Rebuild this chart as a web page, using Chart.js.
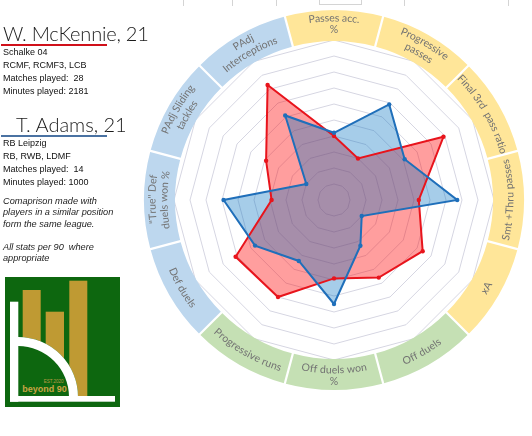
<!DOCTYPE html>
<html><head><meta charset="utf-8">
<script src="https://cdn.jsdelivr.net/npm/chart.js@4"></script>
<style>
html,body{margin:0;padding:0;background:#fff;width:532px;height:436px;overflow:hidden;}
#wrap{position:relative;width:532px;height:436px;}
canvas#c{position:absolute;left:0;top:0;}
.t{position:absolute;white-space:nowrap;font-family:"Liberation Sans",Arial,sans-serif;color:#111;}
.name{font-family:Lato,"Open Sans",sans-serif;font-weight:300;font-size:20px;color:#1a1a1a;line-height:24px;}
.small{font-size:9px;line-height:13.3px;}
.it{font-style:italic;font-size:9.2px;line-height:11.4px;color:#222;}
.ul{position:absolute;height:2px;}
.gl{position:absolute;background:#d4d4d4;}
</style></head>
<body><div id="wrap">
<canvas id="c" width="532" height="436"></canvas>

<div class="gl" style="left:183px;top:0;width:1px;height:6px"></div>
<div class="gl" style="left:232px;top:0;width:1px;height:6px"></div>
<div class="gl" style="left:276px;top:0;width:1px;height:6px"></div>
<div class="gl" style="left:319px;top:0;width:1px;height:5px"></div>
<div class="gl" style="left:319px;top:4px;width:43px;height:1px"></div>
<div class="gl" style="left:361px;top:0;width:1px;height:5px"></div>
<div class="gl" style="left:404px;top:0;width:1px;height:6px"></div>
<div class="gl" style="left:508px;top:0;width:1px;height:6px"></div>

<div class="t name" style="left:3px;top:21px;letter-spacing:-0.2px">W. McKennie, 21</div>
<div class="ul" style="left:1px;top:43.5px;width:106px;background:#d0101a"></div>
<div class="t small" style="left:3px;top:45.5px">Schalke 04<br>RCMF, RCMF3, LCB<br>Matches played:&nbsp; 28<br>Minutes played: 2181</div>

<div class="t name" style="left:16px;top:112px">T. Adams, 21</div>
<div class="ul" style="left:1px;top:134.5px;width:106px;background:#4a72a2"></div>
<div class="t small" style="left:3px;top:136.5px">RB Leipzig<br>RB, RWB, LDMF<br>Matches played:&nbsp; 14<br>Minutes played: 1000</div>

<div class="t it" style="left:3px;top:196px">Comaprison made with<br>players in a similar position<br>form the same league.<br><br>All stats per 90&nbsp; where<br>appropriate</div>

<svg style="position:absolute;left:5px;top:277px" width="116" height="130" viewBox="0 0 116 130">
  <rect x="0" y="0" width="115" height="130" fill="#0d670f"/>
  <rect x="17.7" y="13" width="18" height="107" fill="#bf9a33"/>
  <rect x="40.7" y="34.7" width="18.3" height="85" fill="#bf9a33"/>
  <rect x="64.3" y="3.7" width="18" height="116" fill="#bf9a33"/>
  <path d="M13 120 L13 60 A60 60 0 0 1 73 120 Z" fill="#0d670f"/>
  <path d="M13 60 A60 60 0 0 1 73 120 L64 120 A51 51 0 0 0 13 69 Z" fill="#ffffff"/>
  <rect x="5" y="24.7" width="8.3" height="100" fill="#ffffff"/>
  <rect x="5" y="119" width="105" height="5.7" fill="#ffffff"/>
  <text x="48.7" y="105.5" font-family="Liberation Sans,Arial,sans-serif" font-size="4.6" fill="#b99a45" text-anchor="middle">EST.2020</text>
  <text x="39.5" y="115.3" font-family="Liberation Sans,Arial,sans-serif" font-size="9" font-weight="bold" fill="#c9a445" text-anchor="middle">beyond 90</text>
</svg>
</div>
<script>
const categories = ["Passes acc. %", "Progressive passes", "Final 3rd pass ratio", "Smt +Thru passes", "xA", "Off duels", "Off duels won %", "Progressive runs", "Def duels", "\"True\" Def duels won %", "PAdj Sliding tackles", "PAdj Interceptions"];
const ringLabelLines = [["Passes acc.", "%"], ["Progressive", "passes"], ["Final 3rd  pass ratio"], ["Smt +Thru passes"], ["xA"], ["Off duels"], ["Off duels won", "%"], ["Progressive runs"], ["Def duels"], ["\"True\" Def", "duels won %"], ["PAdj Sliding", "tackles"], ["PAdj", "Interceptions"]];
const groups = ["pass", "pass", "pass", "pass", "pass", "off", "off", "off", "def", "def", "def", "def"];
const groupColors = {pass: "#FFE699", off: "#C5E0B4", def: "#BDD7EE"};
const mckennie = [40, 30, 79, 53, 64, 56, 49, 70, 71, 39, 49, 83];
const adams = [42, 69, 51, 77, 20, 33, 65, 44, 57, 69, 20, 61];
const tickMin = 0, tickMax = 100, tickStep = 10;

function arcText(ctx, text, cx, cy, r, theta, outward) {
  const w = ctx.measureText(text).width;
  const span = w / r;
  let acc = 0;
  for (const ch of text) {
    const cw = ctx.measureText(ch).width;
    const a = outward ? theta - span / 2 + (acc + cw / 2) / r : theta + span / 2 - (acc + cw / 2) / r;
    const x = cx + r * Math.sin(a), y = cy - r * Math.cos(a);
    ctx.save();
    ctx.translate(x, y);
    ctx.rotate(outward ? a : a + Math.PI);
    ctx.fillText(ch, 0, 0);
    ctx.restore();
    acc += cw;
  }
}

const ringPlugin = {
  id: 'ring',
  afterDraw(chart) {
    const s = chart.scales.r;
    const cx = s.xCenter, cy = s.yCenter, R = s.drawingArea;
    const ctx = chart.ctx;
    const rIn = R - 1, rOut = R + 30;
    const n = categories.length;
    const step = 2 * Math.PI / n;
    ctx.save();
    for (let i = 0; i < n; i++) {
      const t0 = i * step - step / 2 - Math.PI / 2, t1 = i * step + step / 2 - Math.PI / 2;
      ctx.beginPath();
      ctx.arc(cx, cy, rOut, t0, t1);
      ctx.arc(cx, cy, rIn, t1, t0, true);
      ctx.closePath();
      ctx.fillStyle = groupColors[groups[i]];
      ctx.fill();
    }
    ctx.strokeStyle = '#ffffff';
    ctx.lineWidth = 2.2;
    for (let i = 0; i < n; i++) {
      const a = i * step - step / 2;
      ctx.beginPath();
      ctx.moveTo(cx + (rIn - 1) * Math.sin(a), cy - (rIn - 1) * Math.cos(a));
      ctx.lineTo(cx + (rOut + 1) * Math.sin(a), cy - (rOut + 1) * Math.cos(a));
      ctx.stroke();
    }
    ctx.fillStyle = '#727272';
    ctx.font = '10.5px Lato, "Open Sans", sans-serif';
    ctx.textAlign = 'center';
    ctx.textBaseline = 'middle';
    const rMid = R + 16;
    for (let i = 0; i < n; i++) {
      const deg = i * 360 / n;
      const theta = i * step;
      const outward = (deg >= 270 || deg <= 60);
      const lines = ringLabelLines[i];
      lines.forEach((ln, k) => {
        let r = rMid;
        if (lines.length === 2) {
          r = outward ? (k === 0 ? rMid + 6 : rMid - 6) : (k === 0 ? rMid - 6 : rMid + 6);
        }
        arcText(ctx, ln, cx, cy, r, theta, outward);
      });
    }
    ctx.restore();
  }
};

new Chart(document.getElementById('c').getContext('2d'), {
  type: 'radar',
  data: {
    labels: categories,
    datasets: [
      {label: 'T. Adams', data: adams, borderColor: '#1f6fba', backgroundColor: 'rgba(0,112,192,0.35)', borderWidth: 2, pointRadius: 2.2, pointBackgroundColor: '#1f6fba', pointBorderWidth: 0, fill: true},
      {label: 'W. McKennie', data: mckennie, borderColor: '#e8141c', backgroundColor: 'rgba(255,0,0,0.38)', borderWidth: 2, pointRadius: 2.2, pointBackgroundColor: '#e8141c', pointBorderWidth: 0, fill: true}
    ]
  },
  options: {
    responsive: false,
    animation: false,
    devicePixelRatio: 1,
    layout: {padding: {left: 174, right: 38, top: 40, bottom: 76}},
    elements: {line: {tension: 0}},
    plugins: {legend: {display: false}, tooltip: {enabled: false}, filler: {drawTime: 'beforeDatasetsDraw'}},
    scales: {
      r: {
        min: tickMin, max: tickMax,
        ticks: {display: false, stepSize: tickStep},
        grid: {color: '#d6d6e2', lineWidth: 1},
        angleLines: {display: false},
        pointLabels: {display: false}
      }
    }
  },
  plugins: [ringPlugin]
});
</script>
</body></html>
